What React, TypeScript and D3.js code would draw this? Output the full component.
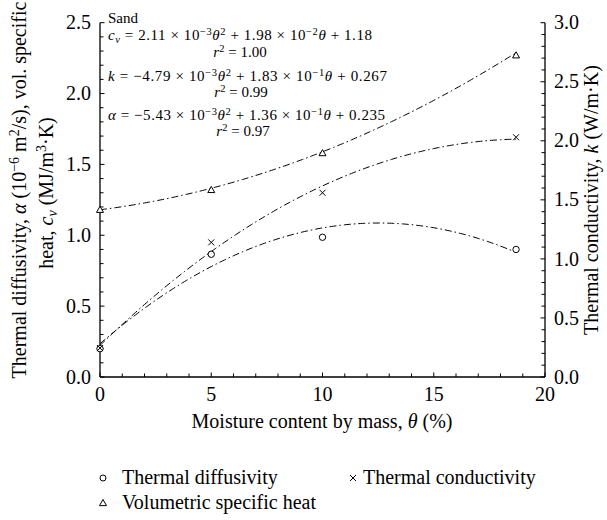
import React from "react";
import * as d3 from "d3";

const moisture = [0, 5, 10, 18.7];
const diffusivity = [0.2, 0.866, 0.986, 0.9];
const conductivity = [0.245, 1.14, 1.56, 2.03];
const specificHeat = [1.18, 1.32, 1.58, 2.27];

// fit coefficients [a, b, c] for a*θ² + b*θ + c, as printed on the chart
const cvFit = [2.11e-3, 1.98e-2, 1.18];
const kFit = [-4.79e-3, 1.83e-1, 0.267];
const alphaFit = [-5.43e-3, 1.36e-1, 0.235];

const xTicks = [0, 5, 10, 15, 20];
const leftTicks = ["0.0", "0.5", "1.0", "1.5", "2.0", "2.5"];
const rightTicks = ["0.0", "0.5", "1.0", "1.5", "2.0", "2.5", "3.0"];
const legendLabels = ["Thermal diffusivity", "Thermal conductivity", "Volumetric specific heat"];

const FONT = '"Liberation Serif", "Times New Roman", serif';

type Seg = { t: string; i?: boolean; sup?: boolean; sub?: boolean };

function Rich({ segs, size }: { segs: Seg[]; size: number }) {
  const out: React.ReactNode[] = [];
  let shift = 0;
  segs.forEach((s, idx) => {
    let target = 0;
    if (s.sup) target = -size * 0.36;
    if (s.sub) target = size * 0.22;
    const dy = target - shift;
    shift = target;
    out.push(
      <tspan
        key={idx}
        dy={dy}
        style={{ fontStyle: s.i ? "italic" : "normal", fontSize: s.sup || s.sub ? size * 0.7 : size }}
      >
        {s.t}
      </tspan>
    );
  });
  return <>{out}</>;
}

export default function App() {
  const W = 607;
  const H = 520;
  const x = d3.scaleLinear().domain([0, 20]).range([100, 545]);
  const yL = d3.scaleLinear().domain([0, 2.5]).range([377, 22.7]);
  const yR = d3.scaleLinear().domain([0, 3]).range([377, 22.7]);

  const thetas = d3.range(0, 18.7001, 0.1);
  const poly = (c: number[]) => (t: number) => c[0] * t * t + c[1] * t + c[2];
  const mk = (f: (t: number) => number, ys: d3.ScaleLinear<number, number>) =>
    d3
      .line<number>()
      .x((t) => x(t))
      .y((t) => ys(f(t)))(thetas) as string;

  const dash = "7,3,1.5,3";
  const fs = 20;
  const afs = 15;

  const tri = (cx: number, cy: number, s = 3.5) =>
    `M${cx},${cy - s} L${cx + s},${cy + s * 0.75} L${cx - s},${cy + s * 0.75} Z`;
  const cross = (cx: number, cy: number, s = 3) =>
    `M${cx - s},${cy - s} L${cx + s},${cy + s} M${cx - s},${cy + s} L${cx + s},${cy - s}`;

  const leftMinor = d3.range(0, 26).map((i) => i / 10);
  const rightMinor = d3.range(0, 31).map((i) => i / 10);
  const xMinor = d3.range(0, 21);

  return (
    <svg
      width={W}
      height={H}
      style={{ display: "block", position: "absolute", left: 0, top: 0, fontFamily: FONT }}
    >
      <rect width={W} height={H} fill="#fff" />
      {/* axes */}
      <g stroke="#000" strokeWidth={1.3} fill="none">
        <line x1={x(0)} x2={x(0)} y1={yL(2.5)} y2={yL(0)} />
        <line x1={x(20)} x2={x(20)} y1={yR(3)} y2={yR(0)} />
        <line x1={x(0)} x2={x(20)} y1={yL(0)} y2={yL(0)} />
      </g>
      <g stroke="#000" strokeWidth={1}>
        {leftMinor.map((v, i) => (
          <line key={"lm" + i} x1={x(0)} x2={x(0) + (i % 5 === 0 ? 4.5 : 3.5)} y1={yL(v)} y2={yL(v)} />
        ))}
        {rightMinor.map((v, i) => (
          <line key={"rm" + i} x1={x(20)} x2={x(20) - (i % 5 === 0 ? 4.5 : 3.5)} y1={yR(v)} y2={yR(v)} />
        ))}
        {xMinor.map((v, i) => (
          <line key={"xm" + i} x1={x(v)} x2={x(v)} y1={yL(0)} y2={yL(0) - (i % 5 === 0 ? 4.5 : 3.5)} />
        ))}
      </g>
      {/* tick labels */}
      <g style={{ fontSize: fs }} fill="#000">
        {leftTicks.map((t) => (
          <text key={"lt" + t} x={91} y={yL(+t)} dy="0.33em" textAnchor="end">
            {t}
          </text>
        ))}
        {rightTicks.map((t) => (
          <text key={"rt" + t} x={554} y={yR(+t)} dy="0.33em" textAnchor="start">
            {t}
          </text>
        ))}
        {xTicks.map((t) => (
          <text key={"xt" + t} x={x(t)} y={401} textAnchor="middle">
            {t}
          </text>
        ))}
      </g>
      {/* axis titles */}
      <text x={322} y={428} style={{ fontSize: fs }} textAnchor="middle">
        <Rich size={fs} segs={[{ t: "Moisture content by mass, " }, { t: "θ", i: true }, { t: " (%)" }]} />
      </text>
      <text transform={`translate(26,190) rotate(-90)`} style={{ fontSize: fs }} textAnchor="middle">
        <Rich
          size={fs}
          segs={[
            { t: "Thermal diffusivity, " },
            { t: "α", i: true },
            { t: " (10" },
            { t: "−6", sup: true },
            { t: " m" },
            { t: "2", sup: true },
            { t: "/s), vol. specific" },
          ]}
        />
      </text>
      <text transform={`translate(53,193) rotate(-90)`} style={{ fontSize: fs }} textAnchor="middle">
        <Rich
          size={fs}
          segs={[
            { t: "heat, " },
            { t: "c", i: true },
            { t: "v", i: true, sub: true },
            { t: " (MJ/m" },
            { t: "3", sup: true },
            { t: "·K)" },
          ]}
        />
      </text>
      <text transform={`translate(598,200) rotate(-90)`} style={{ fontSize: fs }} textAnchor="middle">
        <Rich size={fs} segs={[{ t: "Thermal conductivity, " }, { t: "k", i: true }, { t: " (W/m·K)" }]} />
      </text>
      {/* fit curves */}
      <g fill="none" stroke="#000" strokeWidth={1} strokeDasharray={dash}>
        <path d={mk(poly(cvFit), yL)} />
        <path d={mk(poly(kFit), yR)} />
        <path d={mk(poly(alphaFit), yL)} />
      </g>
      {/* markers */}
      <g fill="#fff" stroke="#000" strokeWidth={1}>
        {moisture.map((m, i) => (
          <path key={"t" + i} d={tri(x(m), yL(specificHeat[i]))} />
        ))}
        {moisture.map((m, i) => (
          <circle key={"c" + i} cx={x(m)} cy={yL(diffusivity[i])} r={3.2} />
        ))}
        {moisture.map((m, i) => (
          <path key={"x" + i} d={cross(x(m), yR(conductivity[i]))} fill="none" />
        ))}
      </g>
      {/* annotation */}
      <g style={{ fontSize: afs }} fill="#000">
        <text x={108} y={23}>Sand</text>
        <text x={108} y={40} textLength={264} lengthAdjust="spacing">
          <Rich
            size={afs}
            segs={[
              { t: "c", i: true },
              { t: "v", i: true, sub: true },
              { t: " = 2.11 × 10" },
              { t: "−3", sup: true },
              { t: "θ", i: true },
              { t: "2", sup: true },
              { t: " + 1.98 × 10" },
              { t: "−2", sup: true },
              { t: "θ", i: true },
              { t: " + 1.18" },
            ]}
          />
        </text>
        <text x={240} y={57} textAnchor="middle">
          <Rich size={afs} segs={[{ t: "r", i: true }, { t: "2", sup: true }, { t: " = 1.00" }]} />
        </text>
        <text x={108} y={81} textLength={279} lengthAdjust="spacing">
          <Rich
            size={afs}
            segs={[
              { t: "k", i: true },
              { t: " = −4.79 × 10" },
              { t: "−3", sup: true },
              { t: "θ", i: true },
              { t: "2", sup: true },
              { t: " + 1.83 × 10" },
              { t: "−1", sup: true },
              { t: "θ", i: true },
              { t: " + 0.267" },
            ]}
          />
        </text>
        <text x={241} y={97} textAnchor="middle">
          <Rich size={afs} segs={[{ t: "r", i: true }, { t: "2", sup: true }, { t: " = 0.99" }]} />
        </text>
        <text x={108} y={120} textLength={277} lengthAdjust="spacing">
          <Rich
            size={afs}
            segs={[
              { t: "α", i: true },
              { t: " = −5.43 × 10" },
              { t: "−3", sup: true },
              { t: "θ", i: true },
              { t: "2", sup: true },
              { t: " + 1.36 × 10" },
              { t: "−1", sup: true },
              { t: "θ", i: true },
              { t: " + 0.235" },
            ]}
          />
        </text>
        <text x={243} y={136} textAnchor="middle">
          <Rich size={afs} segs={[{ t: "r", i: true }, { t: "2", sup: true }, { t: " = 0.97" }]} />
        </text>
      </g>
      {/* legend */}
      <g fill="#fff" stroke="#000" strokeWidth={1}>
        <circle cx={103} cy={478} r={3} />
        <path d={cross(353, 478, 3)} fill="none" />
        <path d={tri(103, 503)} />
      </g>
      <g style={{ fontSize: fs }} fill="#000">
        <text x={122} y={484}>{legendLabels[0]}</text>
        <text x={363} y={484}>{legendLabels[1]}</text>
        <text x={122} y={509}>{legendLabels[2]}</text>
      </g>
    </svg>
  );
}
